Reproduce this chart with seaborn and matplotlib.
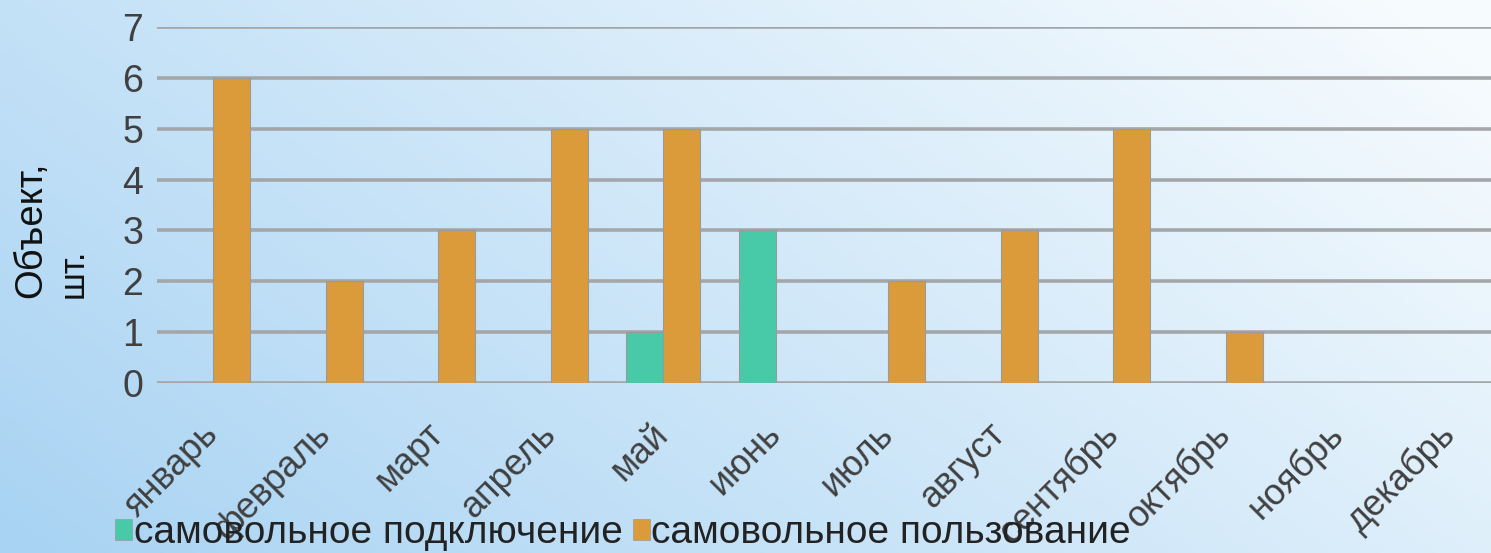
import numpy as np
import pandas as pd
import matplotlib
matplotlib.use("Agg")
import matplotlib.pyplot as plt
from matplotlib.patches import Patch
import seaborn as sns

# данные по месяцам
months = ["январь", "февраль", "март", "апрель", "май", "июнь",
          "июль", "август", "сентябрь", "октябрь", "ноябрь", "декабрь"]
podkl = [0, 0, 0, 0, 1, 3, 0, 0, 0, 0, 0, 0]      # самовольное подключение
polz = [6, 2, 3, 5, 5, 0, 2, 3, 5, 1, 0, 0]       # самовольное пользование
series_names = ["самовольное подключение", "самовольное пользование"]
y_ticks = [0, 1, 2, 3, 4, 5, 6, 7]

colors = ["#48C9A8", "#DB9B3B"]

df = pd.DataFrame({
    "Месяц": months * 2,
    "Значение": podkl + polz,
    "Серия": [series_names[0]] * len(months) + [series_names[1]] * len(months),
})

sns.set_theme(style="white")
plt.rcParams['font.family'] = ['Liberation Sans', 'DejaVu Sans']

fig = plt.figure(figsize=(14.91, 5.53), dpi=100)

# фон с градиентом (слева голубой, справа вверху почти белый)
W, H = 300, 120
xx, yy = np.meshgrid(np.linspace(0, 1, W), np.linspace(0, 1, H))
t = np.clip(0.7 * xx + 0.35 * (1 - yy), 0, 1)
c0 = np.array([168, 211, 243]) / 255
c1 = np.array([246, 251, 254]) / 255
img = c0[None, None, :] * (1 - t[..., None]) + c1[None, None, :] * t[..., None]
bg = fig.add_axes([0, 0, 1, 1], zorder=-5)
bg.imshow(img, aspect="auto", extent=[0, 1, 0, 1], origin="upper")
bg.axis("off")

ax = fig.add_axes([0.1053, 0.3074, 0.8947, 0.6438])
ax.set_facecolor("none")
sns.barplot(data=df, x="Месяц", y="Значение", hue="Серия", palette=colors,
            saturation=1, width=0.66, edgecolor="#9a9a9a", linewidth=0.8,
            ax=ax, legend=False, zorder=3)

ax.set_ylim(0, 7)
ax.set_xlim(-0.5, 11.36)
ax.set_yticks(y_ticks)
ax.yaxis.grid(True, color="#a4a7aa", linewidth=2.6, zorder=0)
ax.set_axisbelow(True)
for s in ax.spines.values():
    s.set_visible(False)
ax.tick_params(axis="y", length=0, pad=10, labelsize=27, labelcolor="#404040")
ax.tick_params(axis="x", length=0, pad=33, labelsize=26, labelcolor="#404040")
ax.set_xlabel("")
ax.set_ylabel("")

for lbl in ax.get_xticklabels():
    lbl.set_rotation(45)
    lbl.set_ha("right")
    lbl.set_va("center")
    lbl.set_rotation_mode("anchor")

# подпись оси
fig.text(0.0208, 0.461, "Объект,", rotation=90, fontsize=27.5, ha="center", va="bottom",
         color="#111111")
fig.text(0.0493, 0.461, "шт.", rotation=90, fontsize=25, ha="center", va="bottom",
         color="#111111")

handles = [Patch(facecolor=c, edgecolor="#9a9a9a", linewidth=0.5) for c in colors]
fig.legend(handles, series_names, loc="center left", bbox_to_anchor=(0.0771, 0.036),
           ncol=2, frameon=False, fontsize=28, handlelength=0.44, handleheight=0.44,
           handletextpad=0.04, columnspacing=0.26, borderpad=0, borderaxespad=0,
           labelcolor="#222222")

fig.savefig("out.png", dpi=100)
